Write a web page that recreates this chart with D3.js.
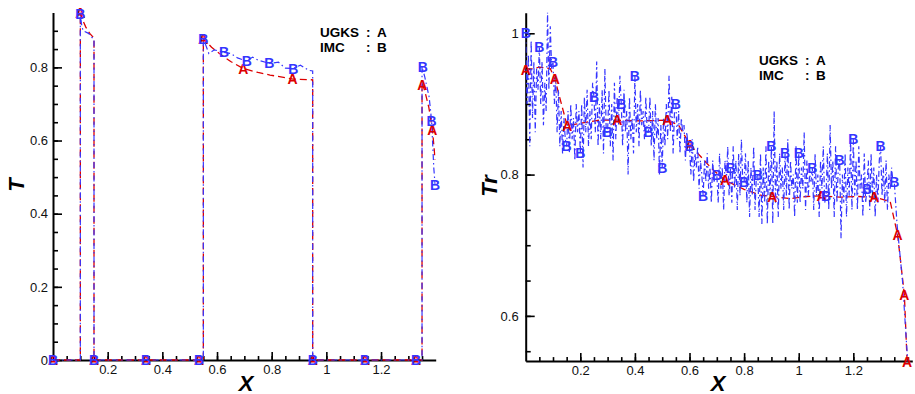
<!DOCTYPE html>
<html>
<head>
<meta charset="utf-8">
<script src="https://cdn.jsdelivr.net/npm/d3@7"></script>
<style>
  body { margin: 0; background: #fff; }
  svg text { font-family: "Liberation Sans", Arial, sans-serif; }
</style>
</head>
<body>
<svg id="viz"></svg>
<script>
// ---- left panel: material temperature T ----
var ugksTX = [0, 0.1, 0.1, 0.105, 0.12, 0.135, 0.15, 0.15,
  0.55, 0.55, 0.58, 0.616, 0.65, 0.696, 0.75, 0.794, 0.878, 0.95, 0.95,
  1.35, 1.35, 1.362, 1.375, 1.388, 1.398];
var ugksT = [0, 0, 0.95, 0.935, 0.91, 0.892, 0.88, 0,
  0, 0.879, 0.855, 0.834, 0.816, 0.797, 0.786, 0.779, 0.768, 0.766, 0,
  0, 0.76, 0.73, 0.69, 0.63, 0.547];
var ugksTMarkX = [0, 0.1, 0.15, 0.34, 0.534, 0.55, 0.696, 0.876, 0.95, 1.142, 1.328, 1.351, 1.388];
var ugksTMark = [0, 0.95, 0, 0, 0, 0.879, 0.797, 0.768, 0, 0, 0, 0.752, 0.629];

var imcTX = [0, 0.1, 0.1, 0.105, 0.11, 0.13, 0.15, 0.15,
  0.55, 0.55, 0.57, 0.59, 0.626, 0.65, 0.675, 0.709, 0.73, 0.75, 0.791, 0.825, 0.85, 0.879, 0.905, 0.935, 0.95, 0.95,
  1.35, 1.35, 1.36, 1.376, 1.385, 1.393, 1.398];
var imcT = [0, 0, 0.945, 0.915, 0.90, 0.893, 0.875, 0,
  0, 0.879, 0.838, 0.848, 0.841, 0.838, 0.826, 0.817, 0.828, 0.82, 0.811, 0.814, 0.798, 0.797, 0.806, 0.792, 0.79, 0,
  0, 0.802, 0.774, 0.719, 0.654, 0.525, 0.478];
var imcTMarkX = [0, 0.1, 0.15, 0.34, 0.534, 0.55, 0.626, 0.709, 0.791, 0.879, 0.95, 1.142, 1.328, 1.353, 1.385, 1.398];
var imcTMark = [0, 0.945, 0, 0, 0, 0.879, 0.841, 0.817, 0.811, 0.797, 0, 0, 0, 0.802, 0.654, 0.478];

// ---- right panel: radiation temperature Tr ----
var ugksTrX = [0, 0.05, 0.09, 0.107, 0.152, 0.22, 0.27, 0.336, 0.42, 0.519, 0.56, 0.602, 0.68, 0.73,
  0.80, 0.86, 0.903, 0.97, 1.03, 1.084, 1.15, 1.22, 1.277, 1.335, 1.362, 1.387, 1.397];
var ugksTr = [0.948, 0.952, 0.950, 0.935, 0.869, 0.874, 0.877, 0.877, 0.876, 0.877, 0.870, 0.842, 0.809, 0.792,
  0.779, 0.771, 0.769, 0.766, 0.769, 0.770, 0.768, 0.769, 0.768, 0.762, 0.715, 0.630, 0.535];
var ugksTrMarkX = [0, 0.107, 0.152, 0.336, 0.519, 0.602, 0.73, 0.903, 1.084, 1.277, 1.362, 1.387, 1.397];
var ugksTrMark = [0.948, 0.935, 0.869, 0.877, 0.877, 0.842, 0.792, 0.769, 0.770, 0.768, 0.715, 0.630, 0.535];

// IMC cells, dx = 0.005 (one row = 0.05 in x)
var imcTrStep = 0.005;
var imcTr = [
  1.00, 0.90, 0.97, 0.84, 0.99, 0.88, 0.96, 0.86, 0.95, 0.92,
  0.98, 0.90, 0.96, 0.87, 0.93, 0.89, 1.03, 0.92, 1.01, 0.95,
  0.96, 0.90, 0.94, 0.86, 0.92, 0.84, 0.89, 0.83, 0.88, 0.85,
  0.84, 0.89, 0.83, 0.90, 0.85, 0.88, 0.82, 0.90, 0.86, 0.89,
  0.83, 0.90, 0.81, 0.91, 0.86, 0.92, 0.84, 0.89, 0.85, 0.93,
  0.91, 0.86, 0.96, 0.84, 0.90, 0.85, 0.92, 0.83, 0.95, 0.86,
  0.86, 0.92, 0.84, 0.90, 0.82, 0.93, 0.85, 0.91, 0.87, 0.94,
  0.90, 0.84, 0.92, 0.86, 0.89, 0.80, 0.91, 0.85, 0.88, 0.83,
  0.94, 0.86, 0.90, 0.84, 0.92, 0.87, 0.89, 0.85, 0.91, 0.86,
  0.86, 0.91, 0.84, 0.89, 0.82, 0.90, 0.85, 0.88, 0.80, 0.87,
  0.81, 0.88, 0.84, 0.90, 0.85, 0.94, 0.86, 0.91, 0.83, 0.89,
  0.90, 0.85, 0.89, 0.83, 0.88, 0.86, 0.87, 0.82, 0.86, 0.84,
  0.84, 0.80, 0.85, 0.79, 0.83, 0.81, 0.84, 0.78, 0.82, 0.80,
  0.77, 0.82, 0.79, 0.83, 0.78, 0.81, 0.76, 0.82, 0.79, 0.80,
  0.80, 0.76, 0.83, 0.78, 0.81, 0.75, 0.82, 0.79, 0.84, 0.77,
  0.81, 0.76, 0.84, 0.78, 0.82, 0.75, 0.83, 0.77, 0.85, 0.79,
  0.79, 0.83, 0.76, 0.82, 0.74, 0.81, 0.77, 0.84, 0.75, 0.80,
  0.80, 0.74, 0.83, 0.73, 0.81, 0.76, 0.84, 0.73, 0.82, 0.77,
  0.84, 0.73, 0.89, 0.76, 0.82, 0.74, 0.83, 0.78, 0.81, 0.75,
  0.83, 0.77, 0.85, 0.75, 0.82, 0.78, 0.80, 0.74, 0.84, 0.76,
  0.83, 0.76, 0.81, 0.78, 0.86, 0.75, 0.82, 0.77, 0.80, 0.79,
  0.81, 0.75, 0.83, 0.77, 0.80, 0.74, 0.82, 0.78, 0.84, 0.76,
  0.77, 0.83, 0.75, 0.87, 0.78, 0.82, 0.74, 0.84, 0.76, 0.81,
  0.82, 0.71, 0.80, 0.76, 0.83, 0.74, 0.81, 0.77, 0.85, 0.75,
  0.85, 0.77, 0.82, 0.75, 0.84, 0.78, 0.80, 0.74, 0.83, 0.76,
  0.78, 0.82, 0.75, 0.83, 0.77, 0.81, 0.74, 0.80, 0.76, 0.82,
  0.84, 0.77, 0.81, 0.76, 0.82, 0.75, 0.80, 0.78, 0.81, 0.79,
  0.79, 0.76, 0.73, 0.71, 0.69, 0.67, 0.65, 0.62, 0.59, 0.56,
  0.535
];

// ticks
var xTickLabels = [0.2, 0.4, 0.6, 0.8, 1, 1.2];
var tTickLabels = [0, 0.2, 0.4, 0.6, 0.8];
var trTickLabels = [0.6, 0.8, 1];

var red = "#dd0000", blue = "#3535ff";

var w = 915, h = 394;
var svg = d3.select("#viz").attr("width", w).attr("height", h);

function pts(xs, ys) {
  return xs.map(function(d, i) { return [d, ys[i]]; });
}

function panel(p) {
  var g = svg.append("g");
  var x = d3.scaleLinear().domain(p.xDomain).range(p.xRange);
  var y = d3.scaleLinear().domain(p.yDomain).range(p.yRange);

  var minorX = d3.range(0.05, p.xDomain[1] - 0.01, 0.05);
  var minorY = d3.range(Math.ceil(p.yDomain[0] / 0.05) * 0.05, p.yDomain[1], 0.05);
  var fmt = function(d) { return String(+d.toFixed(2)); };

  // axes
  var ax = g.append("g").attr("transform", "translate(0," + p.yRange[0] + ")");
  ax.call(d3.axisBottom(x).tickValues(minorX).tickSize(-4).tickSizeOuter(0).tickFormat(""));
  ax.append("g").call(d3.axisBottom(x).tickValues(xTickLabels).tickSize(-8).tickSizeOuter(0).tickPadding(5).tickFormat(fmt))
    .select(".domain").remove();
  var ay = g.append("g").attr("transform", "translate(" + p.xRange[0] + ",0)");
  ay.call(d3.axisLeft(y).tickValues(minorY).tickSize(-5).tickSizeOuter(0).tickFormat(""));
  ay.append("g").call(d3.axisLeft(y).tickValues(p.yTicks).tickSize(-9).tickSizeOuter(0).tickPadding(p.yPad).tickFormat(fmt))
    .select(".domain").remove();
  g.selectAll(".domain").attr("stroke", "#000").attr("stroke-width", 2);
  g.selectAll(".tick line").attr("stroke", "#000").attr("stroke-width", 1.6);
  g.selectAll(".tick text").attr("fill", "#111").style("font-size", "13px")
    .style("font-family", '"Liberation Sans", Arial, sans-serif');

  // clip
  var cid = "clip" + p.id;
  svg.append("clipPath").attr("id", cid).append("rect")
    .attr("x", p.xRange[0]).attr("y", p.yRange[1])
    .attr("width", p.xRange[1] - p.xRange[0]).attr("height", p.yRange[0] - p.yRange[1] + 2);

  var line = d3.line().x(function(d) { return x(d[0]); }).y(function(d) { return y(d[1]); });
  var lines = g.append("g").attr("clip-path", "url(#" + cid + ")");
  lines.append("path").datum(p.a).attr("d", line).attr("fill", "none")
    .attr("stroke", red).attr("stroke-width", 1.3).attr("stroke-dasharray", "7,4");
  lines.append("path").datum(p.b).attr("d", line).attr("fill", "none")
    .attr("stroke", blue).attr("stroke-width", 1.2).attr("stroke-dasharray", "6,3,1.5,3");

  // symbols
  g.append("g").selectAll("text").data(p.aMarks).enter().append("text")
    .attr("x", function(d) { return x(d[0]); }).attr("y", function(d) { return y(d[1]); })
    .attr("dy", "0.36em").attr("text-anchor", "middle")
    .style("font-size", "14px").style("font-weight", "bold").attr("fill", red).text("A");
  g.append("g").selectAll("text").data(p.bMarks).enter().append("text")
    .attr("x", function(d) { return x(d[0]); }).attr("y", function(d) { return y(d[1]); })
    .attr("dy", "0.36em").attr("text-anchor", "middle")
    .style("font-size", "14px").style("font-weight", "bold").attr("fill", blue).text("B");

  // titles
  g.append("text").attr("transform", "translate(" + p.yTitlePos[0] + "," + p.yTitlePos[1] + ") rotate(-90)")
    .attr("text-anchor", "middle").style("font-size", "22px").style("font-weight", "bold")
    .style("font-style", "italic").text(p.yTitle);
  g.append("text").attr("x", p.xTitlePos[0]).attr("y", p.xTitlePos[1])
    .attr("text-anchor", "middle").style("font-size", "22px").style("font-weight", "bold")
    .style("font-style", "italic").text("X");

  // legend
  var lg = g.append("g").style("font-size", "13.5px").style("font-weight", "bold");
  [["UGKS", "A", 0], ["IMC", "B", 15]].forEach(function(r) {
    lg.append("text").attr("x", p.legend[0]).attr("y", p.legend[1] + r[2]).text(r[0]);
    lg.append("text").attr("x", p.legend[0] + 46).attr("y", p.legend[1] + r[2]).text(":");
    lg.append("text").attr("x", p.legend[0] + 57).attr("y", p.legend[1] + r[2]).text(r[1]);
  });
}

panel({
  id: "T",
  xDomain: [0, 1.4], xRange: [53, 435.7],
  yDomain: [0, 0.95], yRange: [360, 12.5],
  yTicks: tTickLabels, yPad: 5,
  a: pts(ugksTX, ugksT), b: pts(imcTX, imcT),
  aMarks: pts(ugksTMarkX, ugksTMark), bMarks: pts(imcTMarkX, imcTMark),
  yTitle: "T", yTitlePos: [24, 185], xTitlePos: [246, 391],
  legend: [320, 37]
});

var imcTrX = imcTr.map(function(d, i) { return +(i * imcTrStep).toFixed(3); });
var imcTrPts = pts(imcTrX, imcTr);
panel({
  id: "Tr",
  xDomain: [0, 1.416], xRange: [525.7, 912.3],
  yDomain: [0.536, 1.029], yRange: [361.1, 12.8],
  yTicks: trTickLabels, yPad: 7,
  a: pts(ugksTrX, ugksTr), b: imcTrPts,
  aMarks: pts(ugksTrMarkX, ugksTrMark),
  bMarks: imcTrPts.filter(function(d, i) { return i % 10 === 0 && d[0] <= 1.35; }),
  yTitle: "Tr", yTitlePos: [497, 186], xTitlePos: [718, 391],
  legend: [759, 65]
});
</script>
</body>
</html>
